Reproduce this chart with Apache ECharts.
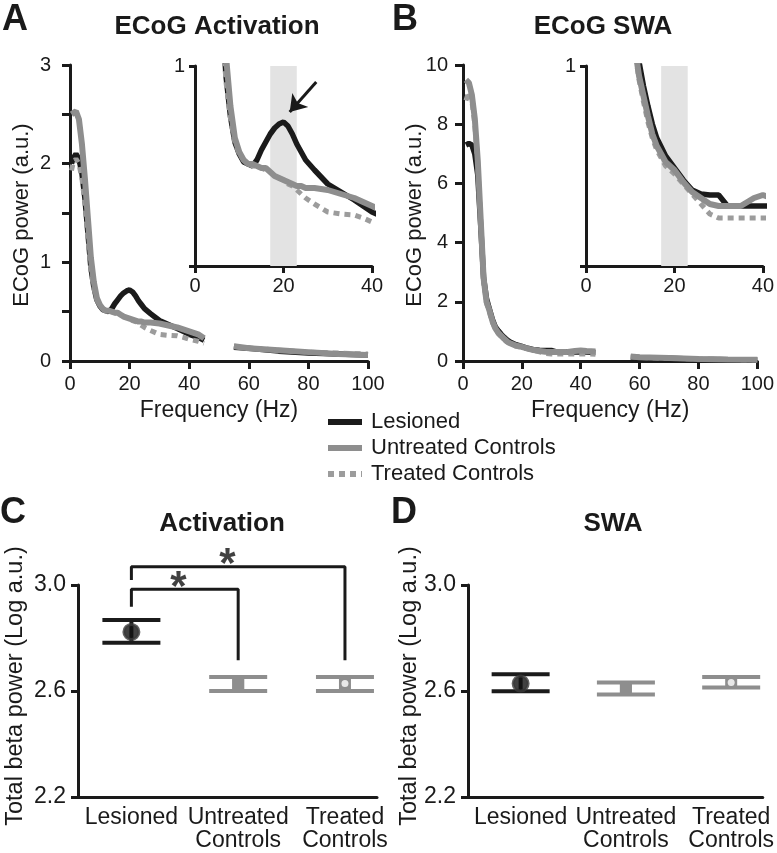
<!DOCTYPE html>
<html><head><meta charset="utf-8">
<script src="https://cdn.jsdelivr.net/npm/echarts@6/dist/echarts.min.js"></script>
<style>html,body{margin:0;padding:0;background:#fff}#c{width:777px;height:853px}</style>
</head><body><div id="c"></div>
<script>
// ---------- Data ----------
const freqA = [0.5,1,2,3,4,5,6,7,8,9,10,11,12,13,14,15,16,17,18,19,20,21,22,23,24,25,27,30,33,36,38,40,43,45,50,55,60,70,80,90,100];
const lesionedA = [2.00,2.05,2.10,2.05,1.90,1.65,1.30,0.95,0.75,0.62,0.56,0.52,0.51,0.50,0.53,0.58,0.62,0.66,0.69,0.71,0.72,0.70,0.66,0.61,0.57,0.53,0.48,0.41,0.37,0.33,0.30,0.27,0.24,0.21,null,0.14,0.13,0.10,0.08,0.07,0.06];
const untreatedA = [2.50,2.52,2.53,2.45,2.20,1.85,1.45,1.05,0.80,0.64,0.57,0.53,0.51,0.51,0.50,0.49,0.49,0.47,0.45,0.44,0.43,0.42,0.41,0.40,0.40,0.39,0.39,0.38,0.36,0.34,0.32,0.30,0.27,0.23,null,0.15,0.13,0.11,0.09,0.07,0.06];
const treatedA = [1.93,2.00,2.05,2.00,1.85,1.60,1.25,0.92,0.74,0.62,0.56,0.53,0.51,0.50,0.50,0.49,0.48,0.47,0.45,0.44,0.43,0.41,0.40,0.38,0.36,0.34,0.31,0.27,0.26,0.255,0.24,0.22,0.20,0.18,null,0.15,0.13,0.11,0.09,0.08,0.07];

const freqB = [1,2,3,4,5,6,7,8,9,10,11,12,13,14,15,16,18,20,22,24,26,28,30,32,35,38,40,42,45,50,57,60,70,80,90,100];
const lesionedB = [7.30,7.35,7.30,7.00,6.30,4.60,2.80,2.10,1.75,1.40,1.15,1.02,0.90,0.80,0.71,0.64,0.55,0.49,0.43,0.38,0.36,0.355,0.355,0.30,0.30,0.30,0.30,0.30,0.29,null,0.13,0.12,0.09,0.06,0.04,0.03];
const untreatedB = [9.50,9.40,9.00,8.20,6.80,4.80,2.80,2.00,1.70,1.35,1.10,0.95,0.85,0.75,0.66,0.60,0.52,0.48,0.42,0.37,0.34,0.31,0.30,0.30,0.30,0.34,0.355,0.34,0.32,null,0.15,0.13,0.10,0.07,0.05,0.04];
const treatedB = [8.80,9.10,8.80,8.00,6.70,4.70,2.70,1.95,1.65,1.30,1.08,0.93,0.82,0.72,0.64,0.58,0.50,0.46,0.41,0.36,0.31,0.26,0.24,0.24,0.24,0.24,0.24,0.24,0.23,null,0.14,0.12,0.09,0.07,0.05,0.04];

const betaBand = [17, 23];
const arrowA = [[27.4, 0.92], [21.4, 0.77]];

const groups = ['Lesioned', 'Untreated\nControls', 'Treated\nControls'];
const activationMean = [2.823, 2.628, 2.628];
const activationLow  = [2.782, 2.600, 2.600];
const activationHigh = [2.868, 2.653, 2.653];
const swaMean = [2.628, 2.610, 2.632];
const swaLow  = [2.599, 2.587, 2.613];
const swaHigh = [2.663, 2.632, 2.653];
const sigBracketShort = [[0, 2.918], [0, 2.984], [1, 2.984], [1, 2.716]];
const sigBracketLong  = [[0, 3.019], [0, 3.069], [2, 3.069], [2, 2.716]];
const sigStars = [[0.44, 3.026], [0.90, 3.113]];

// ---------- Styles ----------
const F = '"Liberation Sans", Arial, Helvetica, sans-serif';
const INK = '#1a1a1a';
const C_LES = '#1b1b1b', C_UNT = '#8e8e8e', C_TRT = '#9c9c9c';
const stLes = {color: C_LES, width: 5.5};
const stUnt = {color: C_UNT, width: 6};
const stTrt = {color: C_TRT, width: 5, type: [6, 5]};

const pairs = (xs, ys) => xs.map((x, i) => [x, ys[i] == null ? '-' : ys[i]]);

function curve(name, xs, ys, st, gi, extra) {
  return Object.assign({
    type: 'line', name, xAxisIndex: gi, yAxisIndex: gi,
    data: pairs(xs, ys), symbol: 'none', showSymbol: false,
    color: st.color, lineStyle: st, silent: true, clip: true, animation: false
  }, extra || {});
}

function axisBase(fontSize, margin, tickLen) {
  return {
    axisLine: {onZero: false, lineStyle: {color: INK, width: 3}},
    axisTick: {show: true, length: tickLen, lineStyle: {color: INK, width: 3}},
    splitLine: {show: false},
    axisLabel: {color: INK, fontSize, fontFamily: F, margin}
  };
}

const grids = [
  {left: 70, top: 65, width: 298, height: 296},    // A main
  {left: 195, top: 66, width: 177, height: 200},   // A inset
  {left: 463, top: 65, width: 300, height: 296},   // B main
  {left: 586, top: 66, width: 177, height: 200},   // B inset
  {left: 78, top: 585, width: 299, height: 212},   // C
  {left: 468, top: 585, width: 300, height: 212}   // D
];

const catLabel = {color: INK, fontSize: 23, fontFamily: F, margin: 9, lineHeight: 23,
  customValues: [0, 1, 2], formatter: v => groups[Math.round(v)] || ''};

const xAxes = [
  Object.assign(axisBase(20, 13, 8), {type: 'value', gridIndex: 0, min: 0, max: 100, interval: 20,
    name: 'Frequency (Hz)', nameLocation: 'middle', nameGap: 38, nameTextStyle: {fontSize: 23, fontFamily: F, color: INK}}),
  Object.assign(axisBase(20, 10, 7), {type: 'value', gridIndex: 1, min: 0, max: 40, interval: 20}),
  Object.assign(axisBase(20, 13, 8), {type: 'value', gridIndex: 2, min: 0, max: 100, interval: 20,
    name: 'Frequency (Hz)', nameLocation: 'middle', nameGap: 38, nameTextStyle: {fontSize: 23, fontFamily: F, color: INK}}),
  Object.assign(axisBase(20, 10, 7), {type: 'value', gridIndex: 3, min: 0, max: 40, interval: 20}),
  Object.assign(axisBase(23, 10, 0), {type: 'value', gridIndex: 4, min: -0.5, max: 2.3,
    axisTick: {show: false}, axisLabel: catLabel}),
  Object.assign(axisBase(23, 10, 0), {type: 'value', gridIndex: 5, min: -0.5, max: 2.3,
    axisTick: {show: false}, axisLabel: catLabel})
];

const yAxes = [
  Object.assign(axisBase(20, 19, 8), {type: 'value', gridIndex: 0, min: 0, max: 3, interval: 1,
    minorTick: {show: true, splitNumber: 2, length: 8, lineStyle: {color: INK, width: 3}}}),
  Object.assign(axisBase(20, 10, 6), {type: 'value', gridIndex: 1, min: 0, max: 1, interval: 1,
    axisLabel: {color: INK, fontSize: 20, fontFamily: F, margin: 10, formatter: v => (v === 1 ? '1' : '')}}),
  Object.assign(axisBase(20, 15, 8), {type: 'value', gridIndex: 2, min: 0, max: 10, interval: 2}),
  Object.assign(axisBase(20, 10, 6), {type: 'value', gridIndex: 3, min: 0, max: 1, interval: 1,
    axisLabel: {color: INK, fontSize: 20, fontFamily: F, margin: 10, formatter: v => (v === 1 ? '1' : '')}}),
  Object.assign(axisBase(23, 12, 7), {type: 'value', gridIndex: 4, min: 2.2, max: 3.0, interval: 0.4,
    axisLabel: {color: INK, fontSize: 23, fontFamily: F, margin: 12, formatter: v => v.toFixed(1)}}),
  Object.assign(axisBase(23, 12, 7), {type: 'value', gridIndex: 5, min: 2.2, max: 3.0, interval: 0.4,
    axisLabel: {color: INK, fontSize: 23, fontFamily: F, margin: 12, formatter: v => v.toFixed(1)}})
];

// error caps
const groupColor = [C_LES, C_UNT, C_UNT];
const connW = [4, 12, 12];
function errSeries(gi, low, high) {
  return {
    type: 'custom', xAxisIndex: gi, yAxisIndex: gi, silent: true, animation: false, z: 3,
    data: low.map((l, i) => [i, l, high[i]]),
    renderItem: (params, api) => {
      const i = api.value(0);
      const lo = api.coord([i, api.value(1)]);
      const hi = api.coord([i, api.value(2)]);
      const c = groupColor[params.dataIndex];
      const w = connW[params.dataIndex];
      return {type: 'group', children: [
        {type: 'rect', shape: {x: lo[0] - w / 2, y: hi[1], width: w, height: lo[1] - hi[1]}, style: {fill: c}},
        {type: 'rect', shape: {x: hi[0] - 29, y: hi[1] - 2, width: 58, height: 4}, style: {fill: c}},
        {type: 'rect', shape: {x: lo[0] - 29, y: lo[1] - 2, width: 58, height: 4}, style: {fill: c}}
      ]};
    }
  };
}
const meanStyle = [
  {symbol: 'circle', symbolSize: 15, itemStyle: {color: '#111', borderColor: '#3a3a3a', borderWidth: 3}},
  {symbol: 'rect', symbolSize: [12, 13], itemStyle: {color: C_UNT}},
  {symbol: 'circle', symbolSize: 7, itemStyle: {color: '#fff'}}
];
function meanSeries(gi, means) {
  return {
    type: 'scatter', xAxisIndex: gi, yAxisIndex: gi, silent: true, animation: false, z: 4,
    data: means.map((m, i) => Object.assign({value: [i, m]}, meanStyle[i]))
  };
}
function bracket(gi, pts) {
  return {type: 'line', xAxisIndex: gi, yAxisIndex: gi, data: pts, symbol: 'none', clip: false,
    silent: true, animation: false, lineStyle: {color: INK, width: 3}};
}

const series = [
  // A main
  curve('Lesioned', freqA, lesionedA, stLes, 0),
  curve('Treated Controls', freqA, treatedA, stTrt, 0),
  curve('Untreated Controls', freqA, untreatedA, stUnt, 0),
  // A inset
  curve('Lesioned', freqA, lesionedA, stLes, 1, {
    markArea: {silent: true, itemStyle: {color: '#e3e3e3'}, data: [[{xAxis: betaBand[0]}, {xAxis: betaBand[1]}]]}
  }),
  curve('Treated Controls', freqA, treatedA, stTrt, 1),
  curve('Untreated Controls', freqA, untreatedA, stUnt, 1),
  // inset arrow
  {type: 'lines', coordinateSystem: 'cartesian2d', xAxisIndex: 1, yAxisIndex: 1, silent: true, animation: false, z: 5,
    symbol: ['none', 'arrow'], symbolSize: 16,
    lineStyle: {color: INK, width: 3, opacity: 1},
    data: [{coords: arrowA}]},
  // B main
  curve('Lesioned', freqB, lesionedB, stLes, 2),
  curve('Treated Controls', freqB, treatedB, stTrt, 2),
  curve('Untreated Controls', freqB, untreatedB, stUnt, 2),
  // B inset
  curve('Lesioned', freqB, lesionedB, stLes, 3, {
    markArea: {silent: true, itemStyle: {color: '#e3e3e3'}, data: [[{xAxis: betaBand[0]}, {xAxis: betaBand[1]}]]}
  }),
  curve('Treated Controls', freqB, treatedB, stTrt, 3),
  curve('Untreated Controls', freqB, untreatedB, stUnt, 3),
  // C
  bracket(4, sigBracketShort),
  bracket(4, sigBracketLong),
  errSeries(4, activationLow, activationHigh),
  meanSeries(4, activationMean),
  {type: 'scatter', xAxisIndex: 4, yAxisIndex: 4, silent: true, animation: false, z: 5, clip: false,
    symbol: 'circle', symbolSize: 1, itemStyle: {color: 'rgba(0,0,0,0)'},
    data: sigStars, label: {show: true, position: 'inside', formatter: '*', fontSize: 42, fontWeight: 'bold',
      fontFamily: F, color: '#111', textBorderWidth: 0, textBorderColor: 'rgba(0,0,0,0)', offset: [0, 10]}},
  // D
  errSeries(5, swaLow, swaHigh),
  meanSeries(5, swaMean)
];

function txt(s, x, y, size, bold, rot) {
  return {type: 'text', x, y, rotation: rot || 0, silent: true,
    style: {text: s, fontSize: size, fontWeight: bold ? 'bold' : 'normal', fontFamily: F, fill: INK,
      align: 'center', verticalAlign: 'middle'}};
}

const chart = echarts.init(document.getElementById('c'), null, {renderer: 'canvas'});
chart.setOption({
  animation: false,
  backgroundColor: '#fff',
  grid: grids,
  xAxis: xAxes,
  yAxis: yAxes,
  legend: {
    data: ['Lesioned', 'Untreated Controls', 'Treated Controls'],
    orient: 'vertical', left: 320, top: 406, itemWidth: 34, itemHeight: 14, itemGap: 4,
    selectedMode: false,
    itemStyle: {color: 'rgba(0,0,0,0)', borderColor: 'rgba(0,0,0,0)', borderWidth: 0},
    lineStyle: {width: 6},
    textStyle: {fontSize: 22, fontFamily: F, color: INK, padding: [0, 0, 0, 4]}
  },
  graphic: [
    txt('A', 15, 20, 36, true),
    txt('B', 405, 20, 36, true),
    txt('C', 13, 513, 36, true),
    txt('D', 404, 513, 36, true),
    txt('ECoG Activation', 217, 27, 26, true),
    txt('ECoG SWA', 603, 27, 26, true),
    txt('Activation', 222, 524, 26, true),
    txt('SWA', 613, 524, 26, true),
    txt('ECoG power (a.u.)', 22, 215, 22, false, Math.PI / 2),
    txt('ECoG power (a.u.)', 415, 215, 22, false, Math.PI / 2),
    txt('Total beta power (Log a.u.)', 16, 686, 23.5, false, Math.PI / 2),
    txt('Total beta power (Log a.u.)', 410, 686, 23.5, false, Math.PI / 2)
  ],
  series
});
</script>
</body></html>
